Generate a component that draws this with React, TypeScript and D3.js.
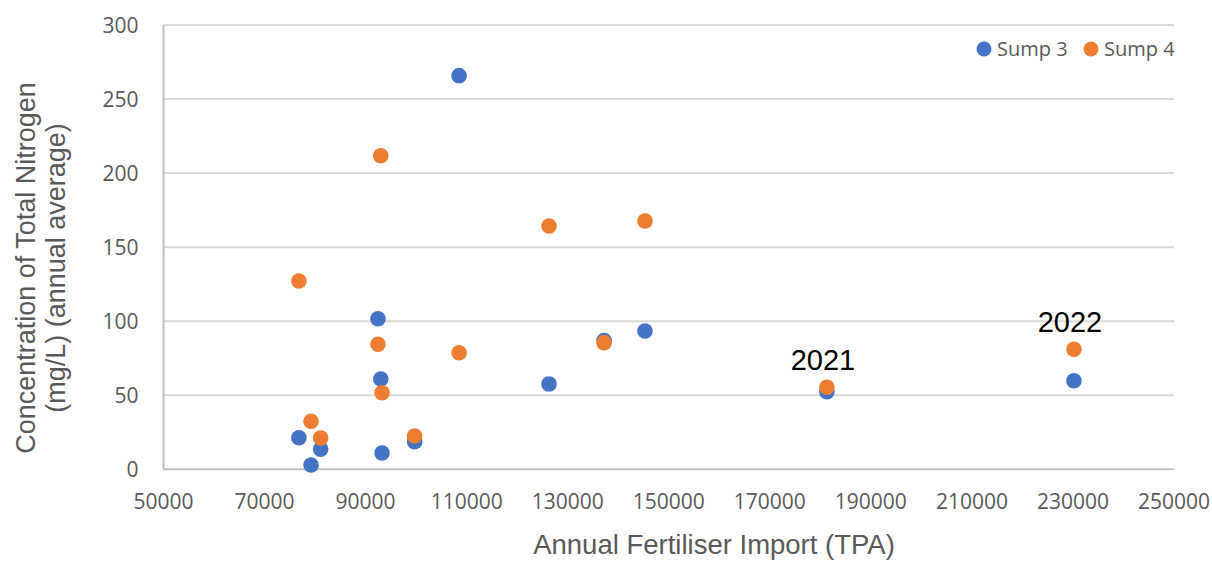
import React from "react";
import * as d3 from "d3";

const sump3Import = [76800, 79200, 81100, 92450, 93000, 93250, 99700, 108500, 126300, 137200, 145300, 181300, 230200];
const sump3TN = [21.3, 2.9, 13.5, 101.7, 61, 11, 18.6, 265.8, 57.6, 87, 93.4, 52.4, 59.8];
const sump4Import = [76800, 79200, 81100, 92450, 93000, 93250, 99700, 108500, 126300, 137200, 145300, 181300, 230200];
const sump4TN = [127.1, 32.4, 21.1, 84.4, 211.7, 51.7, 22.5, 78.7, 164.3, 85.5, 167.7, 55.4, 81];
const xTicks = [50000, 70000, 90000, 110000, 130000, 150000, 170000, 190000, 210000, 230000, 250000];
const yTicks = [0, 50, 100, 150, 200, 250, 300];
const annotations = [
  { label: "2021", x: 181300, y: 55.4 },
  { label: "2022", x: 230200, y: 81 },
];
const seriesNames = ["Sump 3", "Sump 4"];
const colors = ["#4472C4", "#ED7D31"];

const W = 1212;
const H = 561;

export default function App() {
  const x = d3.scaleLinear().domain([50000, 250000]).range([163.5, 1174]);
  const y = d3.scaleLinear().domain([0, 300]).range([469.3, 25]);
  const tickFont = "'Open Sans', sans-serif";
  const titleFont = "'Liberation Sans', Arial, sans-serif";
  const gray = "#595959";
  const s3 = sump3Import.map((v, i) => [v, sump3TN[i]]);
  const s4 = sump4Import.map((v, i) => [v, sump4TN[i]]);
  const r = 7.8;
  return (
    <svg width={W} height={H} style={{ position: "absolute", left: 0, top: 0, background: "#fff" }}>
      <rect x={0} y={0} width={W} height={H} fill="#fff" />
      {yTicks.map((t) => (
        <line key={"g" + t} x1={x(50000)} x2={x(250000)} y1={y(t)} y2={y(t)} stroke={t === 0 ? "#BFBFBF" : "#D9D9D9"} strokeWidth={2} />
      ))}
      <line x1={x(50000)} x2={x(50000)} y1={y(300)} y2={y(0)} stroke="#BFBFBF" strokeWidth={2} />
      {yTicks.map((t) => (
        <text key={"yt" + t} x={138.5} y={y(t)} dy="0.36em" textAnchor="end" fontFamily={tickFont} fontSize={21} fill={gray}>
          {t}
        </text>
      ))}
      {xTicks.map((t) => (
        <text key={"xt" + t} x={x(t)} y={501} dy="0.36em" textAnchor="middle" fontFamily={tickFont} fontSize={21} fill={gray}>
          {t}
        </text>
      ))}
      <text x={714} y={554} textAnchor="middle" fontFamily={titleFont} fontSize={27.5} fill={gray}>
        Annual Fertiliser Import (TPA)
      </text>
      <g transform="translate(0,268) rotate(-90)">
        <text x={0} y={35} textAnchor="middle" fontFamily={titleFont} fontSize={27} fill={gray}>
          Concentration of Total Nitrogen
        </text>
        <text x={0} y={65} textAnchor="middle" fontFamily={titleFont} fontSize={27} fill={gray}>
          (mg/L) (annual average)
        </text>
      </g>
      {s3.map((d, i) => (
        <circle key={"a" + i} cx={x(d[0])} cy={y(d[1])} r={r} fill={colors[0]} />
      ))}
      {s4.map((d, i) => (
        <circle key={"b" + i} cx={x(d[0])} cy={y(d[1])} r={r} fill={colors[1]} />
      ))}
      {annotations.map((a) => (
        <text key={a.label} x={x(a.x) - 4} y={y(a.y) - 17} textAnchor="middle" fontFamily={titleFont} fontSize={29} fill="#000">
          {a.label}
        </text>
      ))}
      <g>
        <circle cx={984} cy={49} r={7.5} fill={colors[0]} />
        <text x={997} y={49} dy="0.36em" fontFamily={tickFont} fontSize={20} fill={gray}>
          {seriesNames[0]}
        </text>
        <circle cx={1091} cy={49} r={7.5} fill={colors[1]} />
        <text x={1104} y={49} dy="0.36em" fontFamily={tickFont} fontSize={20} fill={gray}>
          {seriesNames[1]}
        </text>
      </g>
    </svg>
  );
}
